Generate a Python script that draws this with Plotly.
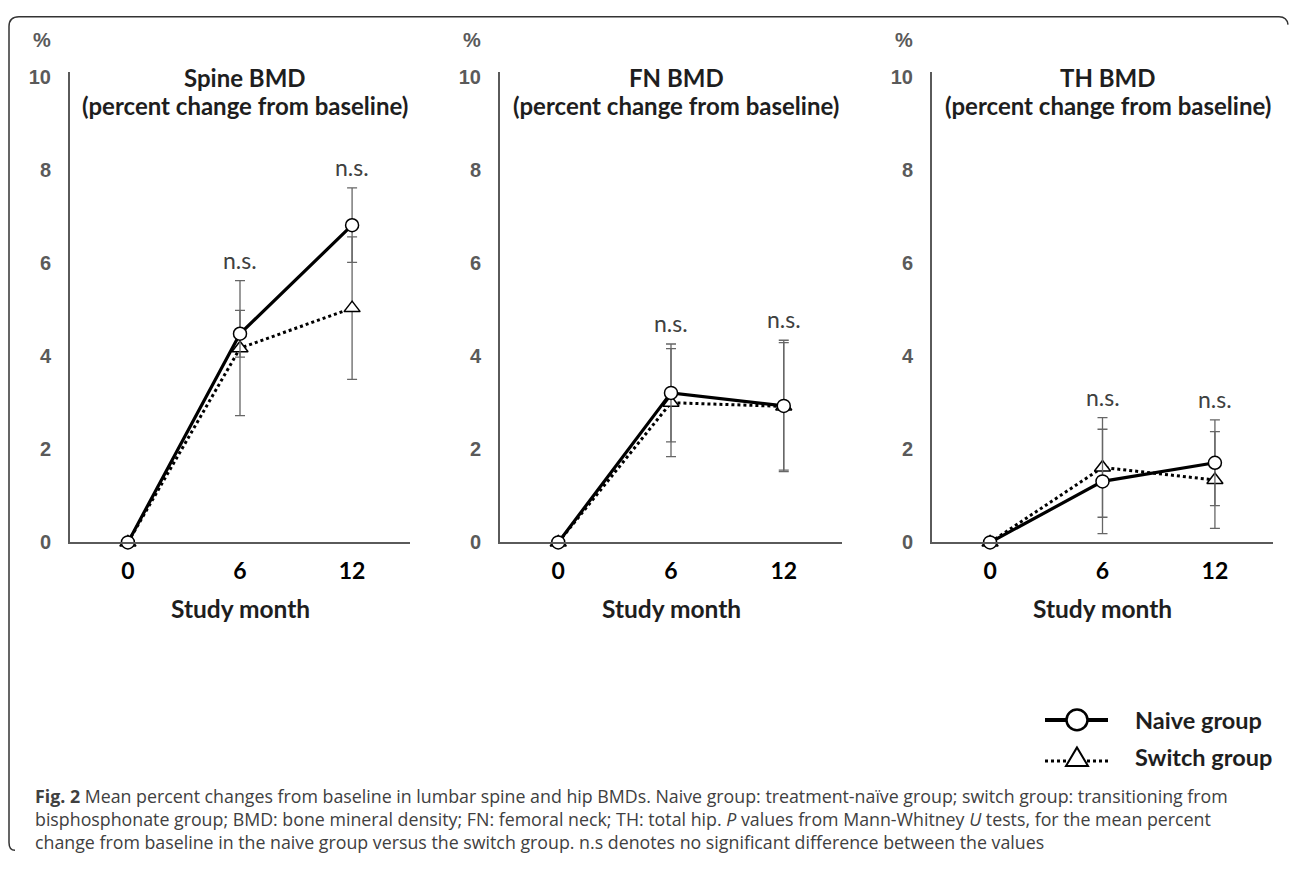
import plotly.graph_objects as go

W, H = 1290, 879

# ---------------- data ----------------
months = [0, 6, 12]
month_labels = ["0", "6", "12"]
panel_names = ["Spine BMD", "FN BMD", "TH BMD"]
subtitle = "(percent change from baseline)"
y_ticks = [0, 2, 4, 6, 8, 10]

spine_naive = [0, 4.48, 6.81]
spine_naive_err = [None, 0.50, 0.80]
spine_switch = [0, 4.17, 5.03]
spine_switch_err = [None, 1.45, 1.53]

fn_naive = [0, 3.21, 2.93]
fn_naive_err = [None, 1.05, 1.41]
fn_switch = [0, 3.00, 2.92]
fn_switch_err = [None, 1.16, 1.37]

th_naive = [0, 1.31, 1.71]
th_naive_err = [None, 1.12, 0.92]
th_switch = [0, 1.61, 1.34]
th_switch_err = [None, 1.07, 1.04]

ns_months = [6, 12]
ns_label = "n.s."

caption_lines = [
    "<b>Fig. 2</b> Mean percent changes from baseline in lumbar spine and hip BMDs. "
    "Naive group: treatment-naïve group; switch group: transitioning from",
    "bisphosphonate group; BMD: bone mineral density; FN: femoral neck; TH: total hip. "
    "<i>P</i> values from Mann-Whitney <i>U</i> tests, for the mean percent",
    "change from baseline in the naive group versus the switch group. "
    "n.s denotes no significant difference between the values",
]

panels = [
    (spine_naive, spine_naive_err, spine_switch, spine_switch_err),
    (fn_naive, fn_naive_err, fn_switch, fn_switch_err),
    (th_naive, th_naive_err, th_switch, th_switch_err),
]

# ---------------- layout helpers ----------------
def fx(x):
    return x / W

def fy(y):
    return 1 - y / H

x_domains_px = [(70, 410), (500, 842), (932, 1273)]
y_bottom_px, y_top_px = 547, 67.25
x_range = [-3.1, 15.1]
y_range = [0, 10.1]

TITLE_FONT = "Lato"
AX_GREY = "#5a5a5a"
TXT = "#1e1e1e"

fig = go.Figure()
annotations = []
shapes = []

for i, (nv, ne, sv, se) in enumerate(panels):
    k = "" if i == 0 else str(i + 1)
    xa, ya = "x" + k, "y" + k
    # switch group (dotted, triangles)
    fig.add_trace(go.Scatter(
        x=months, y=sv, xaxis=xa, yaxis=ya, mode="lines+markers",
        name="Switch group", showlegend=False, cliponaxis=False,
        line=dict(color="black", width=3, dash="dot"),
        marker=dict(symbol="triangle-up", size=14, color="white",
                    line=dict(color="black", width=1.5)),
        error_y=dict(type="data", array=se, visible=True, color="#666666",
                     thickness=1.3, width=5),
    ))
    # naive group (solid, circles)
    fig.add_trace(go.Scatter(
        x=months, y=nv, xaxis=xa, yaxis=ya, mode="lines+markers",
        name="Naive group", showlegend=False, cliponaxis=False,
        line=dict(color="black", width=3.2),
        marker=dict(symbol="circle", size=13, color="white",
                    line=dict(color="black", width=1.5)),
        error_y=dict(type="data", array=ne, visible=True, color="#666666",
                     thickness=1.3, width=5),
    ))

    x0, x1 = x_domains_px[i]
    fig.update_layout(**{
        ("xaxis" + k): dict(
            domain=[fx(x0), fx(x1)], range=x_range, anchor=ya,
            showline=True, linecolor=AX_GREY, linewidth=2,
            showgrid=False, zeroline=False,
            tickvals=months, ticktext=month_labels,
            ticks="outside", ticklen=7, tickcolor="rgba(0,0,0,0)",
            tickfont=dict(family=TITLE_FONT, size=23, color="black", weight="bold"),
        ),
        ("yaxis" + k): dict(
            domain=[fy(y_bottom_px), fy(y_top_px)], range=y_range, anchor=xa,
            showline=True, linecolor=AX_GREY, linewidth=2,
            showgrid=False, zeroline=False,
            tickvals=y_ticks,
            ticks="outside", ticklen=13, tickcolor="rgba(0,0,0,0)",
            tickfont=dict(family="Liberation Sans", size=20, color=AX_GREY, weight="bold"),
        ),
    })

    cx = (x0 + x1) / 2 + 5
    annotations += [
        dict(text="<b>%s</b>" % panel_names[i], x=fx(cx), y=fy(72.7), xref="paper", yref="paper",
             showarrow=False, xanchor="center", yanchor="middle",
             font=dict(family=TITLE_FONT, size=24, color=TXT)),
        dict(text="<b>%s</b>" % subtitle, x=fx(cx), y=fy(101.7), xref="paper", yref="paper",
             showarrow=False, xanchor="center", yanchor="middle",
             font=dict(family=TITLE_FONT, size=24, color=TXT)),
        dict(text="<b>%</b>", x=fx(x0 - 28.3), y=fy(35), xref="paper", yref="paper",
             showarrow=False, xanchor="center", yanchor="middle",
             font=dict(family="Liberation Sans", size=20, color=AX_GREY)),
        dict(text="<b>Study month</b>", x=6, xref=xa, y=fy(614), yref="paper",
             showarrow=False, xanchor="center", yanchor="middle",
             font=dict(family=TITLE_FONT, size=24.5, color=TXT)),
    ]
    for m in ns_months:
        j = months.index(m)
        top = max(nv[j] + ne[j], sv[j] + se[j])
        annotations.append(dict(
            text=ns_label, x=m, y=top, xref=xa, yref=ya, showarrow=False,
            xanchor="center", yanchor="bottom", yshift=5,
            font=dict(family=TITLE_FONT, size=23, color="#404040")))

# ---------------- legend (drawn) ----------------
lx0, lx1, lxc = 1045, 1108, 1077
ly1, ly2 = 728, 766
shapes += [
    dict(type="line", xref="paper", yref="paper", x0=fx(lx0), x1=fx(lx1), y0=fy(ly1), y1=fy(ly1),
         line=dict(color="black", width=4)),
    dict(type="circle", xref="paper", yref="paper", x0=fx(lxc - 10.5), x1=fx(lxc + 10.5),
         y0=fy(ly1 + 10.5), y1=fy(ly1 - 10.5), fillcolor="white",
         line=dict(color="black", width=2.5)),
    dict(type="line", xref="paper", yref="paper", x0=fx(lx0), x1=fx(lx1), y0=fy(ly2 + 4), y1=fy(ly2 + 4),
         line=dict(color="black", width=3, dash="dot")),
    dict(type="path", xref="paper", yref="paper",
         path="M %f,%f L %f,%f L %f,%f Z" % (fx(lxc), fy(ly2 - 10), fx(lxc - 11), fy(ly2 + 9),
                                            fx(lxc + 11), fy(ly2 + 9)),
         fillcolor="white", line=dict(color="black", width=2)),
]
annotations += [
    dict(text="<b>Naive group</b>", x=fx(1133), y=fy(ly1), xref="paper", yref="paper",
         showarrow=False, xanchor="left", yanchor="middle",
         font=dict(family=TITLE_FONT, size=23.5, color=TXT)),
    dict(text="<b>Switch group</b>", x=fx(1133), y=fy(ly2), xref="paper", yref="paper",
         showarrow=False, xanchor="left", yanchor="middle",
         font=dict(family=TITLE_FONT, size=23.5, color=TXT)),
]

# ---------------- frame & caption ----------------
def P(x, y):
    return "%f,%f" % (fx(x), fy(y))

frame = ("M " + P(15, 861) + " Q " + P(9, 861) + " " + P(9, 853) +
         " L " + P(9, 21) + " Q " + P(9, 11) + " " + P(19, 11) +
         " L " + P(1279, 11) + " Q " + P(1287, 11) + " " + P(1288, 19))
shapes.append(dict(type="path", xref="paper", yref="paper", path=frame,
                   line=dict(color="#333333", width=1.5)))

annotations.append(dict(
    text="<br>".join(caption_lines), x=fx(33), y=fy(829), xref="paper", yref="paper",
    showarrow=False, xanchor="left", yanchor="middle", align="left",
    font=dict(family="Open Sans", size=17.8, color="#404040")))

fig.update_layout(
    width=W, height=H, margin=dict(l=0, r=0, t=0, b=0),
    paper_bgcolor="white", plot_bgcolor="white",
    showlegend=False, annotations=annotations, shapes=shapes,
)

fig.write_html("out.html", config={"displayModeBar": False},
               post_script="document.body.style.margin='0px';document.body.style.overflow='hidden';")
